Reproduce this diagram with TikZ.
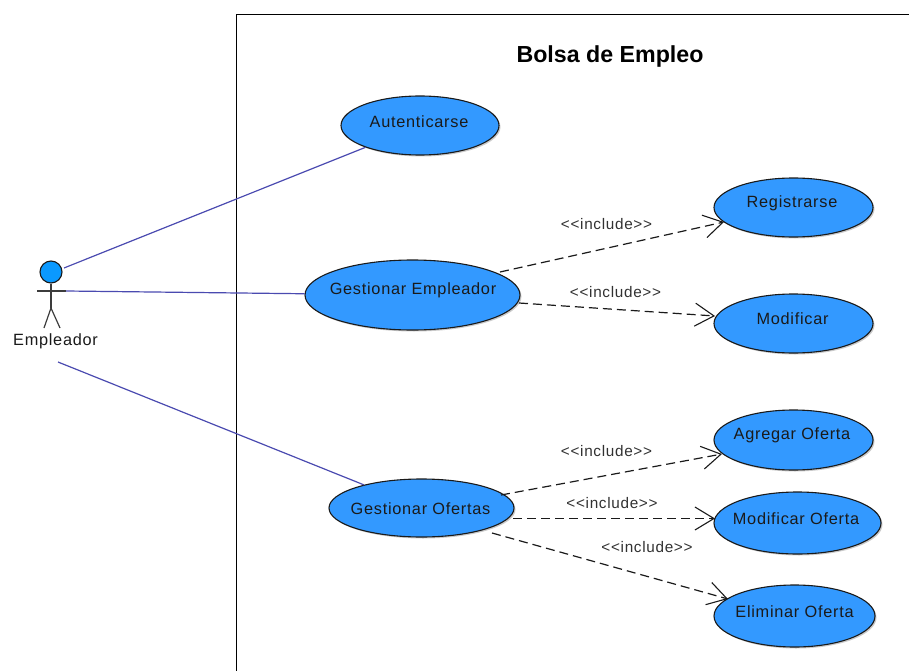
\documentclass[tikz,border=0pt]{standalone}
\usepackage{fontspec}
\setmainfont{Liberation Sans}
\newfontfamily\spacedfont[LetterSpace=4.5]{Liberation Sans}
\usetikzlibrary{arrows.meta,shapes.geometric,shadows}
\definecolor{ucfill}{HTML}{3399FF}
\definecolor{headfill}{HTML}{0A99FF}
\definecolor{assoc}{HTML}{4A4AB0}
\definecolor{ink}{HTML}{1A1A1A}
\tikzset{
  usecase/.style={ellipse,draw=ink,line width=1.1pt,fill=ucfill,inner sep=0pt,
    drop shadow={shadow xshift=1.5pt,shadow yshift=-1.5pt,fill=black!35,opacity=.6}},
  uctext/.style={font=\spacedfont\fontsize{16.3}{19}\selectfont,text=ink,inner sep=0pt,anchor=center},
  inctext/.style={font=\spacedfont\fontsize{15.3}{18}\selectfont,text=ink!90,inner sep=0pt,anchor=center},
  assocline/.style={draw=assoc,line width=1.2pt},
  incline/.style={draw=ink,line width=1.2pt,dash pattern=on 9pt off 5pt,
    -{Straight Barb[length=19pt,width=23pt,line width=1.1pt]}},
  stick/.style={draw=ink!85,line width=1.2pt}
}
\begin{document}
\begin{tikzpicture}[x=1pt,y=-1pt]
\useasboundingbox (0,0) rectangle (909,671);
\draw[black,line width=1.3pt] (236.5,671) -- (236.5,14.5) -- (909,14.5);
\node[font=\bfseries\fontsize{23.2}{27}\selectfont,inner sep=0pt] (title) at (610,56.5) {Bolsa de Empleo};
% actor
\node[circle,draw=ink,line width=1.1pt,fill=headfill,minimum size=22pt,inner sep=0pt] (head) at (51,272) {};
\coordinate (neck) at (51,283);
\coordinate (hip) at (51,308);
\coordinate (armL) at (37,291);
\coordinate (armR) at (66,291);
\coordinate (legL) at (44,328);
\coordinate (legR) at (60,328);
\draw[stick] (head.south) -- (hip);
\draw[stick] (armL) -- (armR);
\draw[stick] (hip) -- (legL);
\draw[stick] (hip) -- (legR);
\node[uctext] (actor) at (55.5,341) {Empleador};
\coordinate (actorA) at (64,268);
\coordinate (actorC) at (58,362);
% use cases
\node[usecase,minimum width=158pt,minimum height=59pt] (aut) at (420,125.5) {};
\node[uctext] (autT) at (419,121.5) {Autenticarse};
\node[usecase,minimum width=215pt,minimum height=70pt] (gem) at (412.5,295) {};
\node[uctext] (gemT) at (413,290.5) {Gestionar Empleador};
\node[usecase,minimum width=185pt,minimum height=58pt] (gof) at (421.5,508) {};
\node[uctext] (gofT) at (420.5,508.5) {Gestionar Ofertas};
\node[usecase,minimum width=159pt,minimum height=59pt] (reg) at (793.5,207.5) {};
\node[uctext] (regT) at (792,203) {Registrarse};
\node[usecase,minimum width=159pt,minimum height=59pt] (mod) at (793.5,323.5) {};
\node[uctext] (modT) at (792.5,319) {Modificar};
\node[usecase,minimum width=159pt,minimum height=60pt] (agr) at (793.5,440) {};
\node[uctext] (agrT) at (792,435.5) {Agregar Oferta};
\node[usecase,minimum width=167pt,minimum height=62pt] (mof) at (797.5,523) {};
\node[uctext] (mofT) at (796,518.5) {Modificar Oferta};
\node[usecase,minimum width=161pt,minimum height=62pt] (eof) at (794.5,616) {};
\node[uctext] (eofT) at (794.5,611.5) {Eliminar Oferta};
% associations
\draw[assocline] (actorA) -- (aut);
\draw[assocline] (armR) -- (gem);
\draw[assocline] (actorC) -- (gof);
% includes
\coordinate (s1) at (500,272);
\coordinate (s2) at (519,303);
\coordinate (s3) at (501,495);
\coordinate (s4) at (513,518.5);
\coordinate (s5) at (492,533);
\coordinate (t1) at (724,222);
\coordinate (t2) at (715,316);
\coordinate (t3) at (722,454);
\coordinate (t4) at (715,518.5);
\coordinate (t5) at (728,599);
\draw[incline] (s1) -- (t1);
\draw[incline] (s2) -- (t2);
\draw[incline] (s3) -- (t3);
\draw[incline] (s4) -- (t4);
\draw[incline] (s5) -- (t5);
\node[inctext] (i1) at (606.5,224) {<{}<include>{}>};
\node[inctext] (i2) at (615.5,292) {<{}<include>{}>};
\node[inctext] (i3) at (606.5,451) {<{}<include>{}>};
\node[inctext] (i4) at (612,503) {<{}<include>{}>};
\node[inctext] (i5) at (647,547) {<{}<include>{}>};
\end{tikzpicture}
\end{document}
